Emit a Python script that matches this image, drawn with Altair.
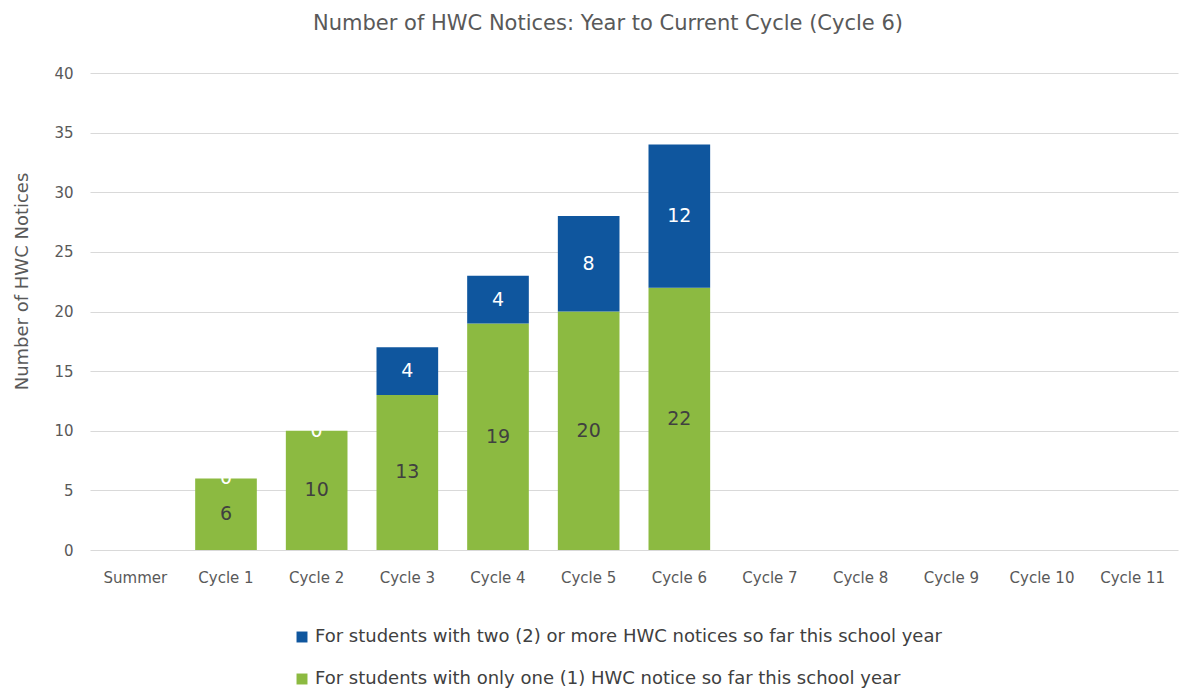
import altair as alt
import pandas as pd

categories = ["Summer", "Cycle 1", "Cycle 2", "Cycle 3", "Cycle 4", "Cycle 5",
              "Cycle 6", "Cycle 7", "Cycle 8", "Cycle 9", "Cycle 10", "Cycle 11"]
data_cats = ["Summer", "Cycle 1", "Cycle 2", "Cycle 3", "Cycle 4", "Cycle 5", "Cycle 6"]
one_notice = [0, 6, 10, 13, 19, 20, 22]
two_plus = [0, 0, 0, 4, 4, 8, 12]

s_one = "For students with only one (1) HWC notice so far this school year"
s_two = "For students with two (2) or more HWC notices so far this school year"

rows = []
for c, a, b in zip(data_cats, one_notice, two_plus):
    rows.append({"cat": c, "series": s_one, "value": a, "ord": 0})
    rows.append({"cat": c, "series": s_two, "value": b, "ord": 1})
df = pd.DataFrame(rows)

FONT = "DejaVu Sans"
GREEN = "#8CBA41"
BLUE = "#0F569E"

x_enc = alt.X("cat:N", sort=categories, scale=alt.Scale(domain=categories, paddingInner=0.32, paddingOuter=0.16),
              axis=alt.Axis(title=None, labelAngle=0, labelFontSize=15, labelColor="#595959",
                            labelFont=FONT, ticks=False, domain=False, grid=False, labelPadding=20))

base = alt.Chart(df)

bars = base.mark_bar().encode(
    x=x_enc,
    y=alt.Y("value:Q", stack="zero",
            scale=alt.Scale(domain=[0, 40]),
            axis=alt.Axis(title="Number of HWC Notices", values=list(range(0, 41, 5)),
                          titleFontSize=18, titleFont=FONT, titleColor="#595959", titleFontWeight="normal",
                          titlePadding=22, titleY=208,
                          labelFontSize=15, labelColor="#595959", labelFont=FONT,
                          ticks=False, domain=False, labelPadding=17,
                          gridColor="#D9D9D9", gridWidth=1)),
    color=alt.Color("series:N",
                    scale=alt.Scale(domain=[s_two, s_one], range=[BLUE, GREEN]),
                    legend=alt.Legend(title=None, orient="none", legendX=203, legendY=555,
                                      direction="vertical", symbolType="square", symbolSize=120,
                                      labelFontSize=18, labelFont=FONT, labelColor="#404040",
                                      labelLimit=900,
                                      rowPadding=24, symbolStrokeWidth=0)),
    order=alt.Order("ord:Q"),
)

labels = base.transform_stack(
    stack="value", groupby=["cat"], as_=["v0", "v1"], sort=[alt.SortField("ord", "ascending")]
).transform_calculate(
    mid="(datum.v0 + datum.v1) / 2"
).transform_filter(
    "datum.cat != 'Summer'"
).mark_text(fontSize=19, font=FONT).encode(
    x=alt.X("cat:N", sort=categories, scale=alt.Scale(domain=categories)),
    y=alt.Y("mid:Q"),
    text=alt.Text("value:Q"),
    color=alt.Color("series:N", scale=alt.Scale(domain=[s_two, s_one], range=["#FFFFFF", "#404040"]), legend=None),
)

chart = alt.layer(bars, labels).resolve_scale(color="independent").properties(
    width=1088, height=477, background="white",
    title=alt.TitleParams("Number of HWC Notices: Year to Current Cycle (Cycle 6)",
                          fontSize=21, font=FONT, color="#595959", fontWeight="normal",
                          offset=32, anchor="middle", dx=-26),
).configure_view(stroke=None, strokeWidth=0)

chart.save("out.html", embed_options={"renderer": "svg", "actions": False})
